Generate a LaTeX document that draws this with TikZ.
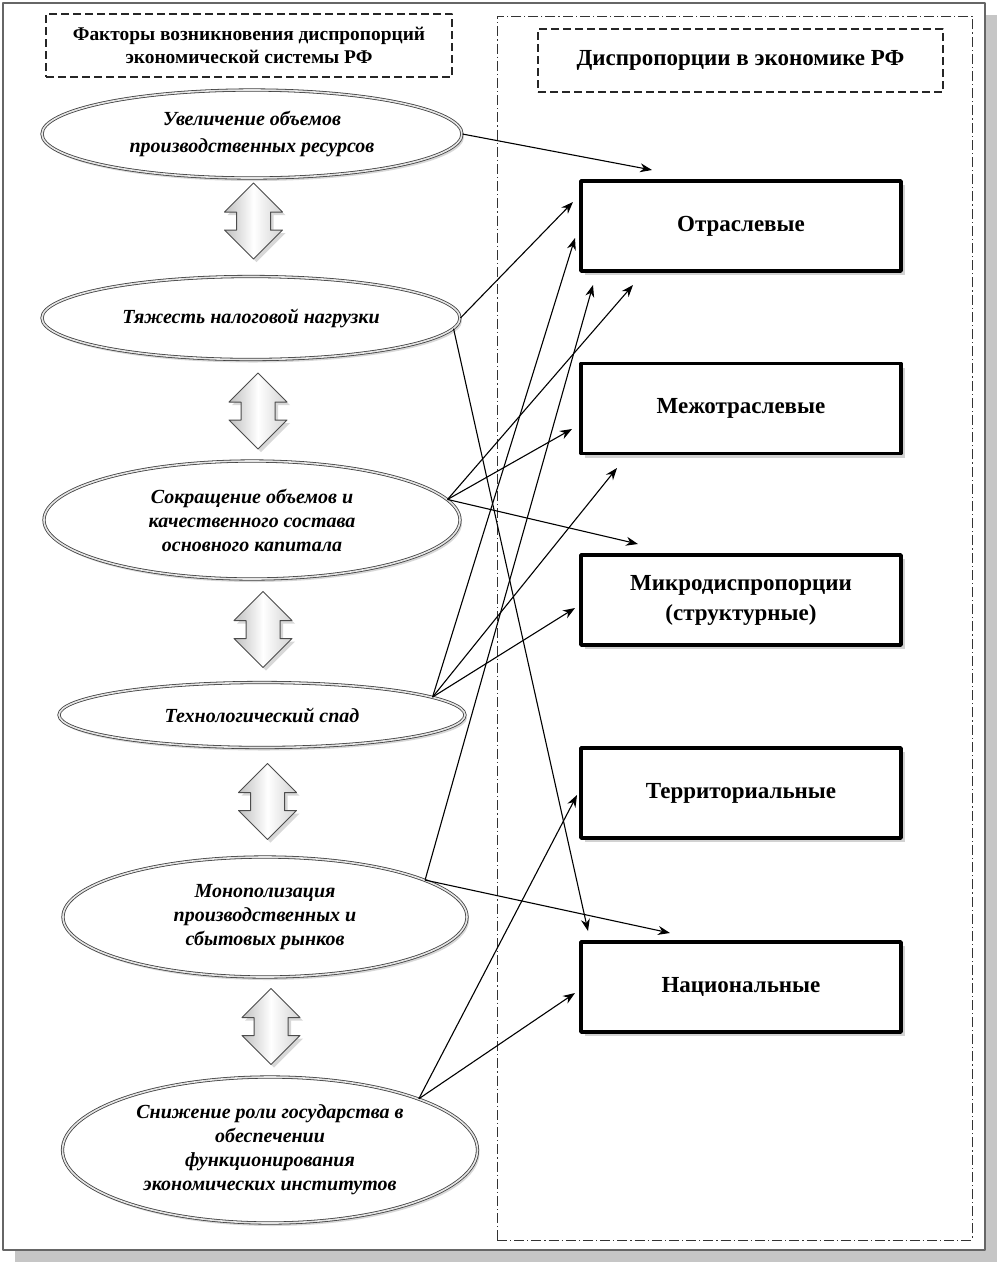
\documentclass[tikz,border=0pt]{standalone}
\usepackage{fontspec}
\setmainfont{Liberation Serif}
\usetikzlibrary{shapes.geometric,shapes.arrows,shadows,arrows.meta}

\pgfdeclareradialshading{ovalshade}{\pgfpoint{0bp}{6bp}}{%
  color(0bp)=(white); color(32bp)=(white); color(45bp)=(gray!25); color(50bp)=(gray!55)}

\tikzset{
  frame/.style={draw=black!60, line width=1pt, fill=white,
    drop shadow={shadow xshift=6pt, shadow yshift=-6pt, opacity=0.45, fill=gray}},
  zone/.style={draw=black!80, line width=0.5pt,
    dash pattern=on 5pt off 1.5pt on 0.6pt off 1.5pt},
  head/.style={draw=black!85, line width=0.6pt, dash pattern=on 4pt off 2pt,
    align=center, inner sep=0pt},
  oval/.style={ellipse, draw=black!75, line width=0.4pt, double=gray!20,
    double distance=0.8pt, shading=ovalshade, align=center, inner sep=0pt,
    font=\fontsize{10}{12}\selectfont\bfseries\itshape,
    drop shadow={shadow xshift=1pt, shadow yshift=-1.5pt, opacity=0.3}},
  kind/.style={rectangle, draw=black, line width=1.8pt, fill=white,
    minimum width=160pt, minimum height=45pt, align=center,
    font=\fontsize{11.5}{15}\selectfont\bfseries,
    drop shadow={shadow xshift=2pt, shadow yshift=-2pt, opacity=0.35}},
  link/.style={double arrow, shape border rotate=90, draw=black!70,
    line width=0.5pt, left color=gray!50, right color=gray!35,
    middle color=white, minimum height=38pt, inner sep=8.25pt,
    double arrow head extend=6pt, double arrow tip angle=90,
    drop shadow={shadow xshift=1.5pt, shadow yshift=-1.5pt, opacity=0.3}},
  conn/.style={-{Stealth[length=6pt,width=4.5pt]}, line width=0.55pt}
}

\begin{document}
\begin{tikzpicture}[x=0.5pt, y=-0.5pt, line join=round]
  \useasboundingbox (0,0) rectangle (1002,1266);
  % outer frame and right column
  \draw[frame] (3,3) rectangle (985,1250);
  \node[zone, minimum width=237.5pt, minimum height=612pt] (zone) at (734.5,628) {};

  % headers
  \node[head, minimum width=203pt, minimum height=31.5pt,
    font=\fontsize{9.7}{11.5}\selectfont\bfseries] (hleft) at (249,45.5)
    {Факторы возникновения диспропорций\\экономической системы РФ};
  \node[head, minimum width=202.5pt, minimum height=31.5pt,
    font=\fontsize{11.5}{14}\selectfont\bfseries] (hright) at (740.5,60.5)
    {Диспропорции в экономике РФ};

  % factors
  \node[oval, minimum width=210pt, minimum height=44pt, font=\fontsize{10}{13.5}\selectfont\bfseries\itshape] (e1) at (252,134)
    {Увеличение объемов\\производственных ресурсов};
  \node[oval, minimum width=209pt, minimum height=41.5pt] (e2) at (251,318)
    {Тяжесть налоговой нагрузки};
  \node[oval, minimum width=208pt, minimum height=59pt] (e3) at (252,520)
    {Сокращение объемов и\\качественного состава\\основного капитала};
  \node[oval, minimum width=203pt, minimum height=32.5pt] (e4) at (262,715)
    {Технологический спад};
  \node[oval, minimum width=202pt, minimum height=60pt] (e5) at (265,917)
    {Монополизация\\производственных и\\сбытовых рынков};
  \node[oval, minimum width=207.5pt, minimum height=73pt] (e6) at (270,1150)
    {Снижение роли государства в\\обеспечении\\функционирования\\экономических институтов};

  % two-way arrows between factors
  \foreach \i/\x/\y in {1/253.5/221, 2/258/411, 3/263/629.5, 4/267.5/801.5, 5/271/1026.5}
    \node[link] (a\i) at (\x,\y) {};

  % kinds of disproportions
  \node[kind] (otr) at (741,226) {Отраслевые};
  \node[kind] (mezh) at (741,408.5) {Межотраслевые};
  \node[kind] (mikro) at (741,600) {Микродиспропорции\\(структурные)};
  \node[kind] (terr) at (741,793) {Территориальные};
  \node[kind] (nac) at (741,987) {Национальные};

  % arrow ends near the boxes
  \coordinate (otr-a) at (652,170);
  \coordinate (otr-b) at (573,202);
  \coordinate (otr-c) at (575,238);
  \coordinate (otr-d) at (593,285);
  \coordinate (otr-e) at (633,285);
  \coordinate (mezh-a) at (572,429);
  \coordinate (mezh-b) at (617,468);
  \coordinate (mikro-a) at (638,544);
  \coordinate (mikro-b) at (575,608);
  \coordinate (terr-a) at (577,795);
  \coordinate (nac-a) at (588,931);
  \coordinate (nac-b) at (670,933);
  \coordinate (nac-c) at (575,993);

  \foreach \s/\t in {e1.east/otr-a, e2.east/otr-b, e2.-3/nac-a,
      e3.6/otr-e, e3.6/mezh-a, e3.6/mikro-a,
      e4.6/otr-c, e4.6/mezh-b, e4.6/mikro-b,
      e5.13/otr-d, e5.13/nac-b, e6.19/terr-a, e6.19/nac-c}
    \draw[conn] (\s) -- (\t);
\end{tikzpicture}
\end{document}
